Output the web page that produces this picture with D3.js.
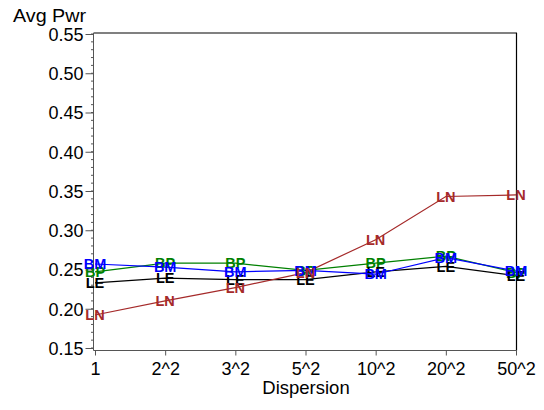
<!DOCTYPE html>
<html><head><meta charset="utf-8">
<script src="https://cdn.jsdelivr.net/npm/d3@7"></script>
<style>body{margin:0;background:#fff}svg{display:block}text{font-family:"Liberation Sans",Arial,sans-serif}</style>
</head><body>
<svg id="c" width="544" height="410"></svg>
<script>
const categories = ["1","2^2","3^2","5^2","10^2","20^2","50^2"];
const yTicks = [0.15,0.20,0.25,0.30,0.35,0.40,0.45,0.50,0.55];
const seriesNames = ["BP","LE","BM","LN"];
const BP = [0.247,0.258,0.258,0.249,0.258,0.267,0.246];
const LE = [0.233,0.239,0.237,0.237,0.247,0.254,0.242];
const BM = [0.257,0.253,0.247,0.249,0.244,0.265,0.248];
const LN = [0.192,0.210,0.227,0.246,0.288,0.343,0.345];
const colors = {BP:"#008000",LE:"#000000",BM:"#0000ff",LN:"#a52a2a"};
const values = {BP,LE,BM,LN};

const svg = d3.select("#c");
const x = d3.scalePoint().domain(categories).range([95,516]);
const y = d3.scaleLinear().domain([0.15,0.55]).range([348,34]);

// frame
svg.append("line").attr("x1",93.5).attr("x2",517).attr("y1",33).attr("y2",33).attr("stroke","#808080").attr("stroke-width",2);
svg.append("line").attr("x1",516.5).attr("x2",516.5).attr("y1",33).attr("y2",350.5).attr("stroke","#000").attr("stroke-width",1.2);

// y axis
const yAxis = d3.axisLeft(y).tickValues(yTicks).tickFormat(d3.format(".2f")).tickSize(8).tickPadding(2).tickSizeOuter(0);
const gy = svg.append("g").attr("transform","translate(93.5,0)").call(yAxis);
gy.select(".domain").attr("stroke","#555").attr("d","M0,33V350.5");
gy.selectAll(".tick line").attr("stroke","#555");
gy.selectAll("text").attr("font-size",18).attr("fill","#000").attr("font-family","Liberation Sans, Arial, sans-serif").attr("dy","0.36em");
const minor = d3.range(0.15,0.5501,0.01);
svg.append("g").selectAll("line").data(minor).join("line")
  .attr("x1",91).attr("x2",93.5).attr("y1",d=>y(d)).attr("y2",d=>y(d)).attr("stroke","#555");

// x axis
const xAxis = d3.axisBottom(x).tickSize(5).tickPadding(7).tickSizeOuter(0);
const gx = svg.append("g").attr("transform","translate(0,350.5)").call(xAxis);
gx.select(".domain").attr("stroke","#555").attr("d","M93.5,0H517");
gx.selectAll(".tick line").attr("stroke","#555");
gx.selectAll("text").attr("font-size",18).attr("fill","#000").attr("font-family","Liberation Sans, Arial, sans-serif");

// titles
svg.append("text").attr("x",13).attr("y",22).attr("font-size",18).attr("textLength",73).attr("lengthAdjust","spacingAndGlyphs").text("Avg Pwr");
svg.append("text").attr("x",306).attr("y",394).attr("font-size",18.5).attr("text-anchor","middle").text("Dispersion");

// lines
const line = d3.line().x((d,i)=>x(categories[i])).y(d=>y(d));
seriesNames.forEach(s=>{
  svg.append("path").attr("d",line(values[s])).attr("fill","none").attr("stroke",colors[s]).attr("stroke-width",1.2);
});
seriesNames.forEach(s=>{
  svg.append("g").selectAll("text").data(values[s]).join("text")
    .attr("x",(d,i)=>x(categories[i])).attr("y",d=>y(d)).attr("dy","0.36em")
    .attr("text-anchor","middle").attr("font-size",14.5).attr("font-weight","bold")
    .attr("fill",colors[s]).text(s);
});
</script>
</body></html>
